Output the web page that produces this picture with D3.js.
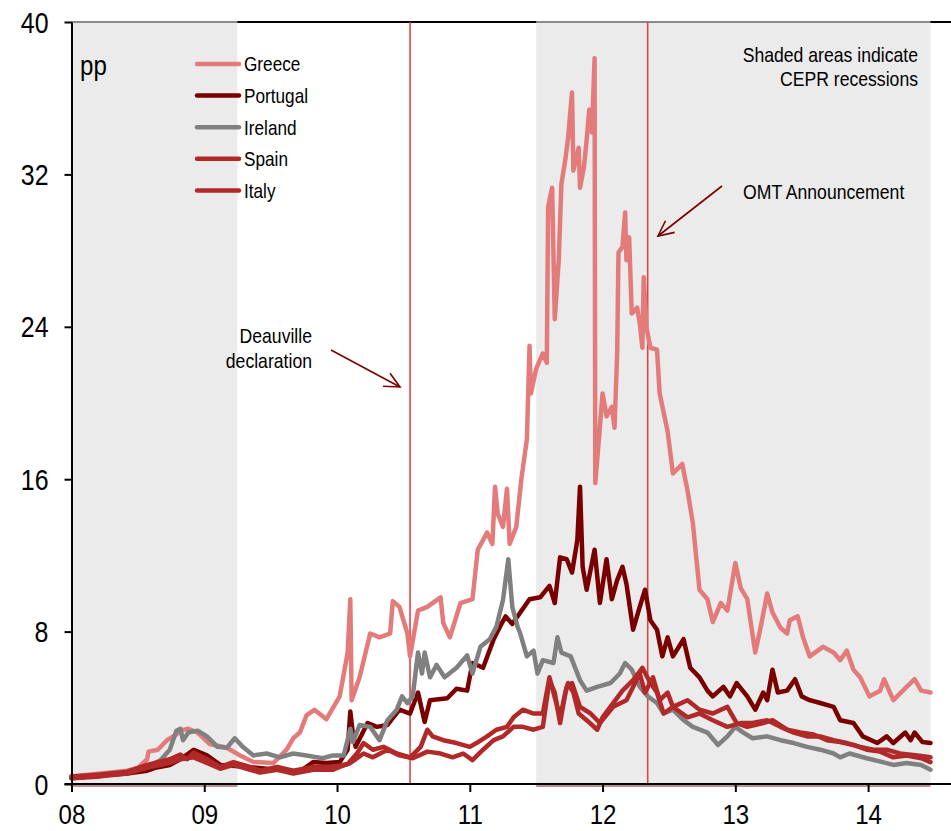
<!DOCTYPE html>
<html>
<head>
<meta charset="utf-8">
<script src="https://cdn.jsdelivr.net/npm/d3@7"></script>
<style>
  html, body { margin: 0; padding: 0; background: #fff; }
  svg { display: block; }
  text { font-family: "Liberation Sans", Arial, sans-serif; fill: #000; }
</style>
</head>
<body>
<svg id="chart" width="951" height="831"></svg>
<script>
// Sovereign spreads over Bunds, percentage points; time as years since 2000
const yearTicks = [8, 9, 10, 11, 12, 13, 14];
const yearLabels = ["08", "09", "10", "11", "12", "13", "14"];
const valueTicks = [0, 8, 16, 24, 32, 40];

const recessions = [[8.0, 9.25], [11.5, 14.47]];
const deauvilleDate = 10.55;
const omtDate = 12.34;

const seriesNames = ["Greece", "Portugal", "Ireland", "Spain", "Italy"];

const greece = [
  [8.00,0.4],[8.22,0.55],[8.42,0.7],[8.50,0.85],[8.57,1.3],[8.58,1.7],[8.65,1.8],[8.72,2.3],[8.79,2.6],[8.82,2.8],
  [8.88,2.9],[8.95,2.7],[9.04,2.1],[9.17,1.9],[9.27,1.5],[9.37,1.15],[9.52,1.1],[9.62,1.8],[9.67,2.4],[9.72,2.7],
  [9.77,3.6],[9.83,3.9],[9.92,3.4],[10.02,4.6],[10.08,6.9],[10.10,9.7],[10.11,4.4],[10.17,5.6],[10.25,7.9],[10.32,7.7],
  [10.40,7.9],[10.42,9.6],[10.47,9.3],[10.53,7.9],[10.55,6.7],[10.61,9.1],[10.68,9.3],[10.78,9.8],[10.80,8.45],[10.85,7.7],
  [10.93,9.5],[11.02,9.7],[11.06,12.3],[11.10,12.8],[11.13,13.2],[11.17,12.6],[11.19,15.6],[11.21,14.2],[11.25,13.5],[11.28,15.5],
  [11.30,12.6],[11.35,13.5],[11.39,16.1],[11.43,18.1],[11.45,23.0],[11.46,20.5],[11.50,21.8],[11.55,22.6],[11.58,22.1],[11.59,30.3],
  [11.62,31.3],[11.64,24.4],[11.67,27.5],[11.69,31.5],[11.72,32.8],[11.74,33.9],[11.77,36.3],[11.78,32.2],[11.82,33.4],[11.83,31.3],
  [11.86,32.4],[11.88,33.8],[11.90,35.4],[11.92,34.2],[11.94,38.1],[11.945,15.8],[11.97,17.9],[12.00,20.5],[12.03,19.3],[12.07,19.8],
  [12.09,18.7],[12.11,22.6],[12.12,27.9],[12.15,28.2],[12.17,30.0],[12.18,27.5],[12.20,28.7],[12.22,24.7],[12.26,25.0],[12.28,24.2],
  [12.30,22.9],[12.31,26.6],[12.33,24.0],[12.36,22.9],[12.41,22.8],[12.43,20.5],[12.49,18.5],[12.53,16.3],[12.60,16.8],[12.64,15.4],
  [12.68,13.7],[12.73,10.2],[12.79,9.7],[12.83,8.5],[12.89,9.5],[12.94,9.1],[13.00,11.6],[13.04,10.3],[13.09,9.7],[13.15,6.9],
  [13.19,8.2],[13.24,10.0],[13.28,9.0],[13.34,8.2],[13.39,7.9],[13.41,8.6],[13.47,8.8],[13.51,7.7],[13.56,6.7],[13.66,7.2],
  [13.74,6.9],[13.79,6.5],[13.84,7.0],[13.89,6.0],[13.94,5.6],[14.01,4.6],[14.09,4.9],[14.12,5.5],[14.19,4.4],[14.29,5.1],
  [14.35,5.5],[14.40,4.9],[14.47,4.8]
];

const portugal = [
  [8.00,0.3],[8.22,0.45],[8.42,0.55],[8.57,0.7],[8.63,0.85],[8.74,1.0],[8.82,1.3],[8.92,1.8],[9.02,1.5],[9.12,1.0],
  [9.32,0.9],[9.55,0.75],[9.72,0.65],[9.82,1.15],[9.92,1.1],[10.02,1.15],[10.08,1.8],[10.10,3.8],[10.12,2.6],[10.14,1.95],
  [10.23,3.2],[10.30,3.0],[10.38,3.1],[10.47,3.9],[10.55,3.7],[10.61,4.8],[10.66,3.25],[10.70,4.4],[10.83,4.5],[10.90,5.0],
  [10.98,4.9],[11.02,6.35],[11.10,6.1],[11.18,7.6],[11.23,8.3],[11.27,8.8],[11.32,8.4],[11.38,9.0],[11.45,9.7],[11.53,9.8],
  [11.60,10.4],[11.64,9.5],[11.68,11.9],[11.73,11.8],[11.77,11.1],[11.81,12.8],[11.83,15.6],[11.85,11.4],[11.88,10.2],[11.94,12.3],
  [11.98,9.5],[12.03,11.8],[12.07,9.7],[12.11,10.7],[12.15,11.4],[12.18,10.5],[12.23,8.1],[12.28,9.3],[12.32,10.2],[12.36,8.6],
  [12.41,8.1],[12.45,6.7],[12.49,7.7],[12.53,6.7],[12.61,7.6],[12.66,6.1],[12.73,5.6],[12.79,4.9],[12.83,4.6],[12.91,5.1],
  [12.96,4.6],[13.01,5.3],[13.09,4.6],[13.15,3.9],[13.21,4.8],[13.24,4.4],[13.28,6.0],[13.32,4.8],[13.39,4.9],[13.45,5.5],
  [13.50,4.6],[13.56,4.4],[13.64,4.25],[13.74,4.05],[13.79,3.35],[13.89,3.2],[13.96,2.5],[14.07,2.15],[14.14,2.5],[14.19,2.15],
  [14.28,2.7],[14.32,2.3],[14.35,2.7],[14.41,2.2],[14.47,2.15]
];

const ireland = [
  [8.00,0.35],[8.22,0.5],[8.42,0.65],[8.57,0.9],[8.67,1.25],[8.74,1.8],[8.79,2.8],[8.82,2.9],[8.84,2.3],[8.88,2.7],
  [8.95,2.8],[9.02,2.5],[9.10,1.95],[9.17,1.9],[9.23,2.4],[9.29,1.95],[9.37,1.5],[9.47,1.6],[9.57,1.4],[9.67,1.6],
  [9.77,1.5],[9.89,1.35],[9.97,1.5],[10.05,1.5],[10.10,2.9],[10.12,2.2],[10.17,3.1],[10.25,3.0],[10.32,2.3],[10.38,3.35],
  [10.45,3.9],[10.49,4.6],[10.53,4.25],[10.57,4.6],[10.61,6.9],[10.64,5.8],[10.66,6.9],[10.70,5.6],[10.75,6.25],[10.81,5.6],
  [10.90,6.1],[10.98,6.75],[11.02,5.8],[11.08,7.2],[11.15,7.6],[11.20,8.25],[11.25,9.66],[11.29,11.8],[11.32,9.3],[11.36,8.25],
  [11.38,7.9],[11.43,6.7],[11.48,7.0],[11.51,5.8],[11.55,6.5],[11.63,6.35],[11.66,7.7],[11.69,6.9],[11.76,6.7],[11.83,5.45],
  [11.88,4.9],[11.96,5.1],[12.06,5.3],[12.13,5.8],[12.17,6.35],[12.22,6.0],[12.28,5.1],[12.34,4.6],[12.41,4.25],[12.46,3.7],
  [12.53,3.9],[12.61,3.35],[12.68,3.0],[12.79,2.7],[12.87,2.05],[12.94,2.5],[13.00,3.0],[13.06,2.7],[13.13,2.4],[13.24,2.5],
  [13.34,2.3],[13.44,2.15],[13.54,1.95],[13.64,1.8],[13.74,1.6],[13.79,1.4],[13.86,1.6],[13.99,1.35],[14.11,1.15],[14.19,1.0],
  [14.29,1.1],[14.40,1.0],[14.47,0.75]
];

const spain = [
  [8.00,0.4],[8.22,0.5],[8.42,0.65],[8.57,1.0],[8.74,1.3],[8.82,1.55],[8.87,1.3],[8.92,1.65],[9.02,1.3],[9.12,0.9],
  [9.22,1.15],[9.32,0.95],[9.42,0.7],[9.55,0.9],[9.67,0.7],[9.82,0.9],[9.97,0.9],[10.08,1.05],[10.15,1.6],[10.20,2.15],
  [10.27,1.8],[10.35,1.95],[10.45,1.6],[10.55,1.4],[10.63,1.95],[10.68,2.85],[10.72,2.5],[10.80,2.3],[10.90,2.15],[11.00,1.95],
  [11.05,2.15],[11.13,2.5],[11.20,2.85],[11.28,3.0],[11.33,3.5],[11.40,3.9],[11.48,3.7],[11.55,3.7],[11.60,5.6],[11.68,3.5],
  [11.73,5.1],[11.77,5.3],[11.83,4.05],[11.91,3.7],[11.98,3.2],[12.08,4.05],[12.18,4.4],[12.28,5.8],[12.32,4.8],[12.38,5.6],
  [12.43,4.4],[12.49,4.8],[12.53,4.05],[12.64,4.4],[12.73,3.9],[12.83,3.7],[12.94,4.05],[13.01,3.2],[13.09,3.0],[13.21,3.2],
  [13.28,3.35],[13.39,2.85],[13.49,2.7],[13.59,2.6],[13.69,2.3],[13.79,2.2],[13.89,2.05],[13.99,1.8],[14.09,1.7],[14.19,1.4],
  [14.29,1.5],[14.40,1.35],[14.47,1.15]
];

const italy = [
  [8.00,0.3],[8.22,0.4],[8.42,0.55],[8.57,0.85],[8.74,1.1],[8.82,1.3],[8.92,1.4],[9.02,1.1],[9.12,0.8],[9.22,1.0],
  [9.32,0.8],[9.42,0.6],[9.55,0.75],[9.67,0.55],[9.82,0.75],[9.97,0.75],[10.02,0.9],[10.10,1.1],[10.20,1.6],[10.27,1.4],
  [10.38,1.8],[10.47,1.5],[10.57,1.35],[10.68,1.7],[10.78,1.6],[10.87,1.4],[10.95,1.6],[11.02,1.25],[11.10,1.8],[11.18,2.3],
  [11.25,2.5],[11.33,3.0],[11.40,3.0],[11.48,2.85],[11.55,3.0],[11.60,5.45],[11.64,4.8],[11.68,3.2],[11.72,4.8],[11.74,5.3],
  [11.78,4.8],[11.82,3.7],[11.88,3.35],[11.96,2.85],[12.00,3.5],[12.08,4.25],[12.15,4.9],[12.23,5.45],[12.30,6.1],[12.36,5.3],
  [12.41,4.8],[12.46,3.7],[12.53,4.05],[12.64,3.5],[12.73,3.7],[12.83,3.35],[12.94,3.0],[13.04,3.2],[13.13,3.2],[13.24,3.35],
  [13.34,3.0],[13.44,2.7],[13.54,2.5],[13.64,2.5],[13.74,2.3],[13.84,2.15],[13.94,1.95],[14.04,1.8],[14.14,1.8],[14.24,1.6],
  [14.37,1.5],[14.47,1.4]
];

const seriesData = [greece, portugal, ireland, spain, italy];
const seriesColors = ["#E47B7B", "#7A0000", "#808080", "#B22828", "#B02A2A"];
const drawOrder = [0, 1, 2, 3, 4];

const svg = d3.select("#chart");
const plotLeft = 71.5, plotRight = 930.5, plotTop = 22, plotBottom = 784;
const narrow = 0.86; // horizontal squeeze giving the condensed lettering

const x = d3.scaleLinear().domain([8, 14.47]).range([plotLeft, plotRight]);
const y = d3.scaleLinear().domain([0, 40]).range([plotBottom, plotTop]);

// condensed text helper
function label(parent, px, py, str, size, anchor) {
  return parent.append("text")
    .attr("transform", `translate(${px},${py}) scale(${narrow},1)`)
    .attr("text-anchor", anchor || "start")
    .style("font-size", size + "px")
    .text(str);
}

// recession shading
svg.append("g").selectAll("rect").data(recessions).join("rect")
  .attr("x", d => x(d[0])).attr("width", d => x(d[1]) - x(d[0]))
  .attr("y", plotTop).attr("height", plotBottom - plotTop)
  .attr("fill", "#EBEBEB");

// frame: top border and baseline extend to the right edge
svg.append("line").attr("x1", plotLeft).attr("x2", 951).attr("y1", plotTop).attr("y2", plotTop)
  .attr("stroke", "#000").attr("stroke-width", 2);
svg.append("g").selectAll("line").data(recessions).join("line")
  .attr("x1", d => x(d[0])).attr("x2", d => x(d[1])).attr("y1", plotTop).attr("y2", plotTop)
  .attr("stroke", "#8a8a8a").attr("stroke-width", 2);
svg.append("g").selectAll("rect").data(recessions).join("rect")
  .attr("x", d => x(d[0])).attr("width", d => x(d[1]) - x(d[0]))
  .attr("y", plotBottom + 1).attr("height", 2)
  .attr("fill", "#B89090");

// event markers
svg.append("g").selectAll("line").data([deauvilleDate, omtDate]).join("line")
  .attr("x1", d => x(d)).attr("x2", d => x(d)).attr("y1", plotTop).attr("y2", plotBottom)
  .attr("stroke", "#E04444").attr("stroke-width", 1.6);

// series
const line = d3.line().x(d => x(d[0])).y(d => y(d[1])).curve(d3.curveLinear);
svg.append("g").selectAll("path").data(drawOrder).join("path")
  .attr("d", i => line(seriesData[i]))
  .attr("fill", "none")
  .attr("stroke", i => seriesColors[i])
  .attr("stroke-width", 4.5)
  .attr("stroke-linejoin", "round")
  .attr("stroke-linecap", "round");

// axes
const yAxis = d3.axisLeft(y).tickValues(valueTicks).tickSize(7).tickSizeOuter(0);
const gy = svg.append("g").attr("transform", `translate(${plotLeft},0)`).call(yAxis);
gy.select(".domain").attr("stroke", "#000").attr("stroke-width", 2);
gy.selectAll(".tick line").attr("stroke", "#000").attr("stroke-width", 2);
gy.selectAll(".tick text")
  .attr("x", null).attr("dy", null)
  .attr("transform", `translate(-23,10) scale(${narrow},1)`)
  .style("font-size", "29px");

const xAxis = d3.axisBottom(x).tickValues(yearTicks).tickFormat((d, i) => yearLabels[i])
  .tickSize(8).tickSizeOuter(0);
const gx = svg.append("g").attr("transform", `translate(0,${plotBottom})`).call(xAxis);
gx.select(".domain").remove();
gx.selectAll(".tick line").attr("stroke", "#000").attr("stroke-width", 2);
gx.selectAll(".tick text")
  .attr("y", null).attr("dy", null)
  .attr("transform", `translate(0,40) scale(${narrow},1)`)
  .style("font-size", "28px");
svg.append("line").attr("x1", plotLeft - 7).attr("x2", 951).attr("y1", plotBottom).attr("y2", plotBottom)
  .attr("stroke", "#000").attr("stroke-width", 2);

// unit label
label(svg, 80, 75, "pp", 28);

// legend
const legend = svg.append("g").attr("transform", "translate(197,64)");
const rows = legend.selectAll("g").data(seriesNames).join("g")
  .attr("transform", (d, i) => `translate(0,${i * 31.6})`);
rows.append("line").attr("x1", 0).attr("x2", 42).attr("y1", 0).attr("y2", 0)
  .attr("stroke", (d, i) => seriesColors[i]).attr("stroke-width", 4.5).attr("stroke-linecap", "round");
rows.each(function (d) { label(d3.select(this), 47, 7.3, d, 20); });

// annotations
label(svg, 918, 62, "Shaded areas indicate", 20.5, "end");
label(svg, 918, 86, "CEPR recessions", 20.5, "end");
label(svg, 743, 199, "OMT Announcement", 20.5);
label(svg, 312, 343, "Deauville", 20.5, "end");
label(svg, 312, 368, "declaration", 20.5, "end");

// arrows
function arrow(x1, y1, x2, y2) {
  const g = svg.append("g").attr("stroke", "#7A0000").attr("stroke-width", 1.6).attr("fill", "none");
  g.append("line").attr("x1", x1).attr("y1", y1).attr("x2", x2).attr("y2", y2);
  const a = Math.atan2(y2 - y1, x2 - x1), L = 17, w = 0.45;
  g.append("path").attr("d",
    `M${x2 - L * Math.cos(a - w)},${y2 - L * Math.sin(a - w)}L${x2},${y2}L${x2 - L * Math.cos(a + w)},${y2 - L * Math.sin(a + w)}`);
}
arrow(331, 350, 400, 387);
arrow(722, 186, 658, 236);
</script>
</body>
</html>
